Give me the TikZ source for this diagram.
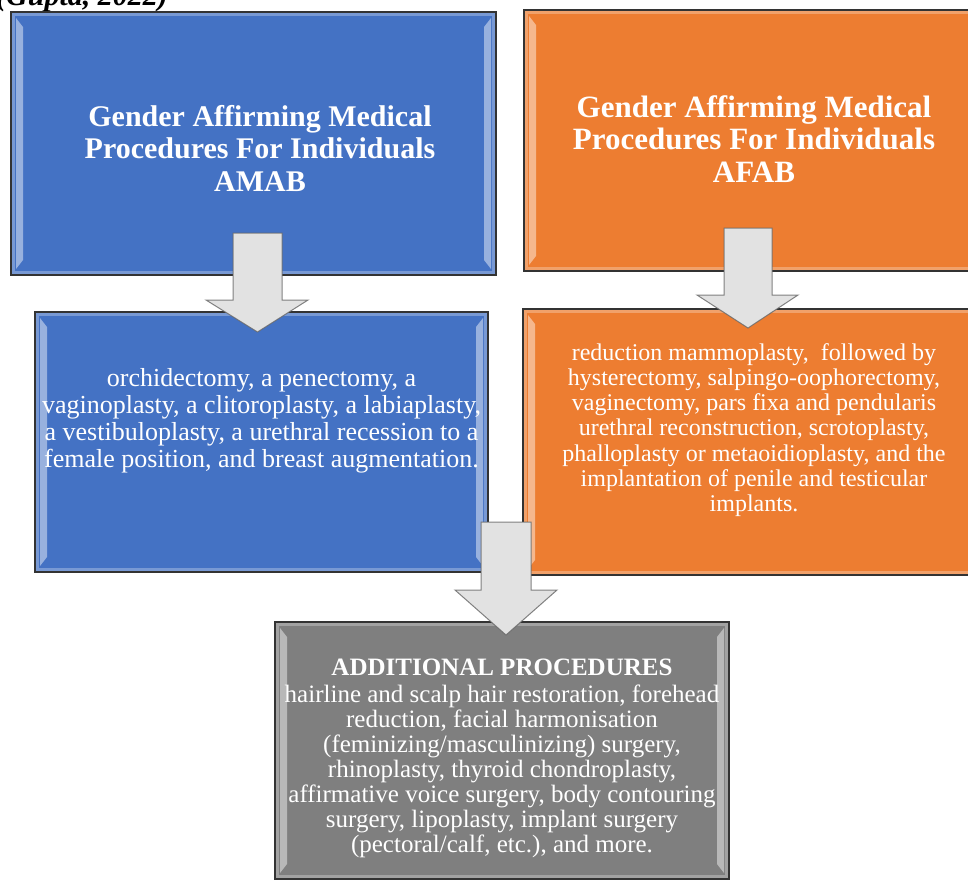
\documentclass[tikz,border=0pt]{standalone}
\usepackage{fontspec}
\setmainfont{Liberation Serif}
\usetikzlibrary{calc}

\definecolor{boxblue}{HTML}{4472C4}
\definecolor{boxorange}{HTML}{ED7D31}
\definecolor{boxgray}{HTML}{7F7F7F}
\definecolor{arrowfill}{HTML}{E2E2E2}

\tikzset{
  % bevelled panel: dark rim, pale inner frame, light side strips
  panel/.style={
    draw=black!80, line width=1.3pt, fill=#1, inner sep=0pt,
    path picture={
      \draw[#1!60!white, line width=3.5pt, opacity=0.7]
        ([shift={(2.5pt,-2.5pt)}]path picture bounding box.north west) rectangle
        ([shift={(-2.5pt,2.5pt)}]path picture bounding box.south east);
      \fill[white, opacity=0.45]
        ([shift={(5pt,-6pt)}]path picture bounding box.north west) --
        ([shift={(12pt,-15pt)}]path picture bounding box.north west) --
        ([shift={(12pt,15pt)}]path picture bounding box.south west) --
        ([shift={(5pt,6pt)}]path picture bounding box.south west) -- cycle;
      \fill[white, opacity=0.45]
        ([shift={(-5pt,-6pt)}]path picture bounding box.north east) --
        ([shift={(-12pt,-15pt)}]path picture bounding box.north east) --
        ([shift={(-12pt,15pt)}]path picture bounding box.south east) --
        ([shift={(-5pt,6pt)}]path picture bounding box.south east) -- cycle;
    }},
  blockarrow/.style={fill=arrowfill, draw=black!60, draw opacity=0.8, line width=1pt, line join=miter},
  titletext/.style={text=white, align=center, font=\bfseries\fontsize{30}{32.5}\selectfont},
  bodytext/.style={text=white, align=center, font=\fontsize{25}{27}\selectfont},
}

\begin{document}
\begin{tikzpicture}[x=1pt, y=-1pt]
  \useasboundingbox (0,0) rectangle (968,881);
  \clip (0,0) rectangle (968,881);
  \fill[white] (0,0) rectangle (968,881);

  % citation line, mostly above the top edge
  \node[anchor=base west, inner sep=0pt, font=\bfseries\itshape\fontsize{30}{34}\selectfont] (cite) at (-4,5) {(Gupta, 2022)};

  % panels
  \node[panel=boxblue,   minimum width=485pt, minimum height=263pt] (amab)   at (253.5,143.5) {};
  \node[panel=boxorange, minimum width=461pt, minimum height=261pt] (afab)   at (754.5,140.5) {};
  \node[panel=boxblue,   minimum width=453pt, minimum height=260pt] (amabp)  at (261.5,442) {};
  \node[panel=boxorange, minimum width=462pt, minimum height=266pt] (afabp)  at (754,442) {};
  \node[panel=boxgray,   minimum width=454pt, minimum height=257pt] (extra)  at (502,750.5) {};

  % block arrows from each heading panel to its list, and down to the extras
  \draw[blockarrow] (233,233) -- (282,233) -- (282,300) -- (308,300) -- (257.5,332)
                    -- (206,300) -- (233,300) -- cycle;
  \draw[blockarrow] (724,228) -- (772,228) -- (772,295) -- (798,295) -- (748,328)
                    -- (697,295) -- (724,295) -- cycle;
  \draw[blockarrow] (481,522) -- (531,522) -- (531,590) -- (557,590) -- (506,635)
                    -- (455,590) -- (481,590) -- cycle;

  % texts
  \node[titletext] (amabtitle) at (260,148) {Gender Affirming Medical\\Procedures For Individuals\\AMAB};
  \node[titletext, font=\bfseries\fontsize{31}{32.5}\selectfont] (afabtitle) at (754,139) {Gender Affirming Medical\\Procedures For Individuals\\AFAB};

  \node[bodytext, font=\fontsize{26}{27}\selectfont] (amablist) at (261.5,421) {orchidectomy, a penectomy, a\\vaginoplasty, a clitoroplasty, a labiaplasty,\\a vestibuloplasty, a urethral recession to a\\female position, and breast augmentation.};

  \node[bodytext, font=\fontsize{24}{25.2}\selectfont] (afablist) at (754,430) {reduction mammoplasty,\ \ followed by\\hysterectomy, salpingo-oophorectomy,\\vaginectomy, pars fixa and pendularis\\urethral reconstruction, scrotoplasty,\\phalloplasty or metaoidioplasty, and the\\implantation of penile and testicular\\implants.};

  \node[titletext, font=\bfseries\fontsize{25}{28}\selectfont] (extrahead) at (502,667) {ADDITIONAL PROCEDURES};
  \node[bodytext, font=\fontsize{25}{25}\selectfont] (extralist) at (502,771) {hairline and scalp hair restoration, forehead\\reduction, facial harmonisation\\(feminizing/masculinizing) surgery,\\rhinoplasty, thyroid chondroplasty,\\affirmative voice surgery, body contouring\\surgery, lipoplasty, implant surgery\\(pectoral/calf, etc.), and more.};
\end{tikzpicture}
\end{document}
